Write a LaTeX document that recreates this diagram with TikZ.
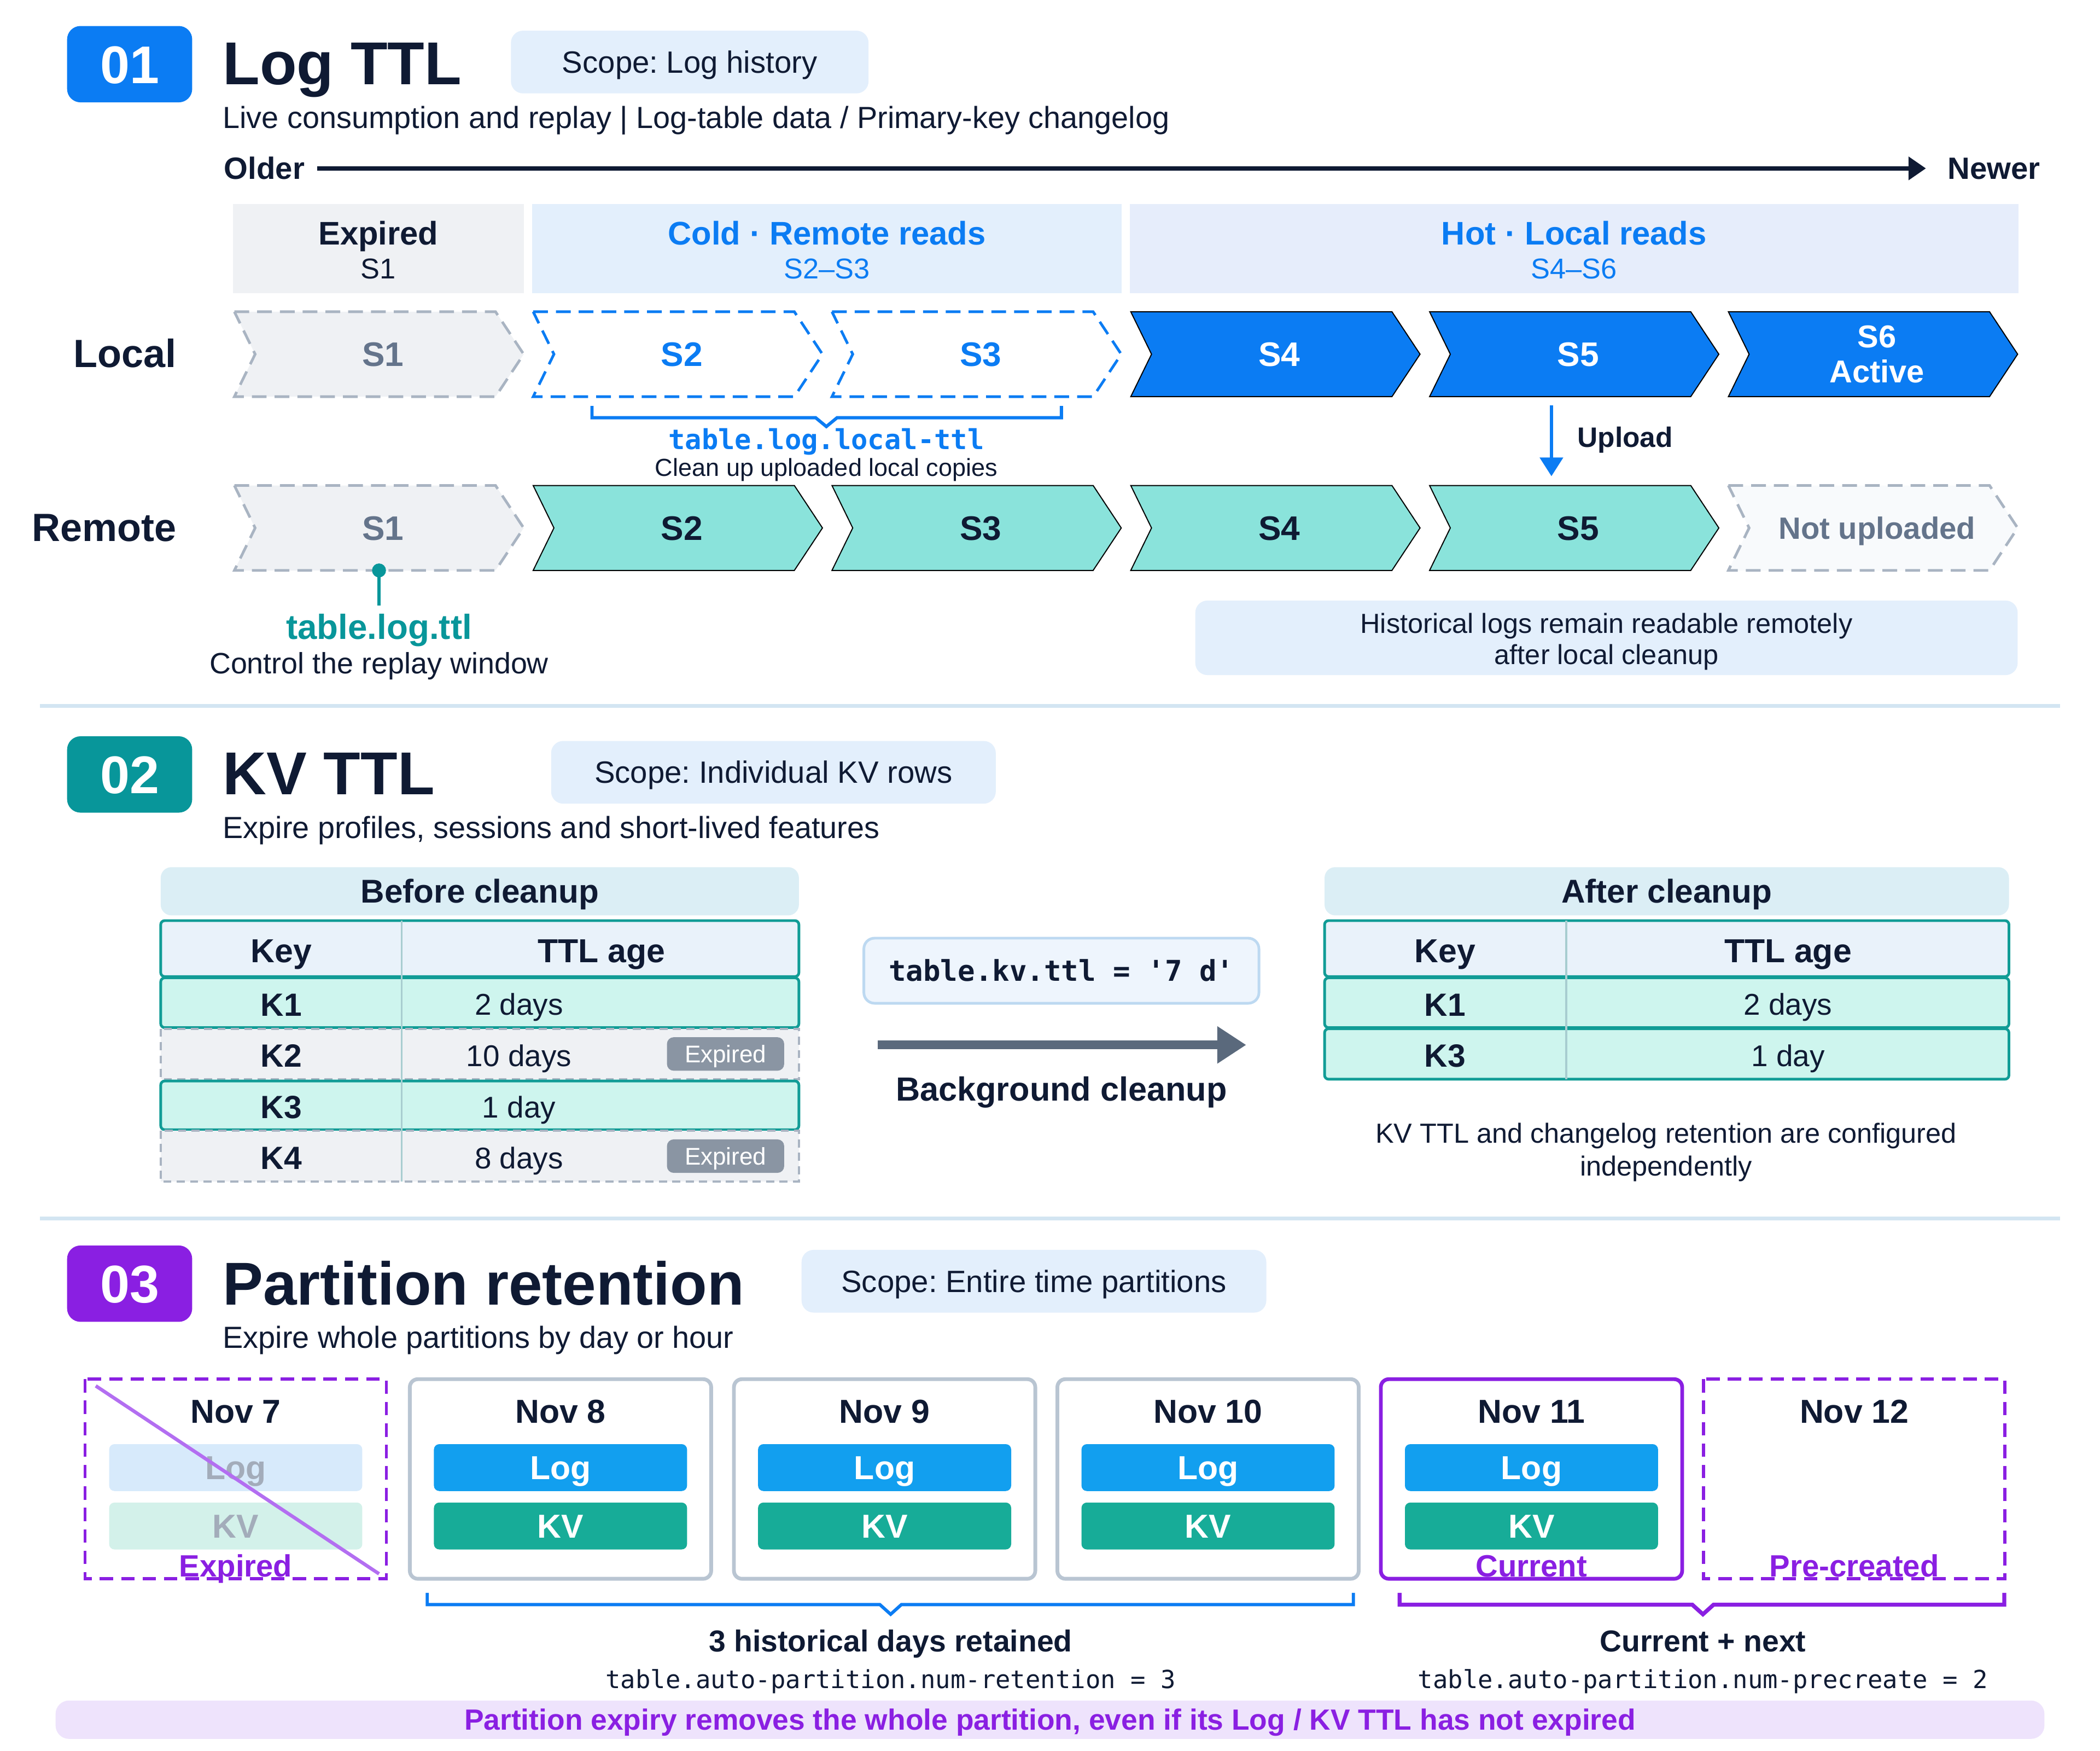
\documentclass[tikz,border=0pt]{standalone}
\usepackage{fontspec}
\setmainfont{Liberation Sans}
\setmonofont{DejaVu Sans Mono}
\usetikzlibrary{arrows.meta}
\frenchspacing

\definecolor{ink}{HTML}{0F1A33}
\definecolor{brand}{HTML}{0B7CF3}
\definecolor{paleblue}{HTML}{E3EFFC}
\definecolor{hotband}{HTML}{E6EDFB}
\definecolor{greyband}{HTML}{EFF1F4}
\definecolor{greyline}{HTML}{A9B4C2}
\definecolor{greytext}{HTML}{64748B}
\definecolor{offwhite}{HTML}{F8FAFC}
\definecolor{remote}{HTML}{8AE3DB}
\definecolor{sea}{HTML}{08969A}
\definecolor{rule}{HTML}{D3E5F2}
\definecolor{tabhead}{HTML}{DBEEF5}
\definecolor{colhead}{HTML}{E9F2FA}
\definecolor{mint}{HTML}{CEF5EE}
\definecolor{tealline}{HTML}{119C96}
\definecolor{divline}{HTML}{A8CDD0}
\definecolor{tagbg}{HTML}{8A95A3}
\definecolor{codebg}{HTML}{EEF5FD}
\definecolor{codeline}{HTML}{BDD9F1}
\definecolor{slate}{HTML}{5A697C}
\definecolor{violet}{HTML}{8A1FE2}
\definecolor{lilac}{HTML}{B36EF1}
\definecolor{bannerbg}{HTML}{EEE3FC}
\definecolor{logblue}{HTML}{129FEF}
\definecolor{kvgreen}{HTML}{17AC98}
\definecolor{logfade}{HTML}{D7EAFB}
\definecolor{kvfade}{HTML}{D3F1EA}
\definecolor{fadetext}{HTML}{A3ACBA}
\definecolor{boxline}{HTML}{B9C5D2}

\newcommand{\fsz}[2]{\fontsize{#1}{#2}\selectfont}

% chevron: kind, left x, top y, name, label
\newcommand{\chev}[5]{%
  \draw[chev #1] (#2,#3) -- ++(195,0) -- ++(21,31.7) -- ++(-21,31.7) -- ++(-195,0) -- ++(15.5,-31.7) -- cycle;
  \node[chev #1 txt] (#4) at (#2+111,#3+31.7) {#5};
}

% partition frame: style, left x, name, date
\newcommand{\partbox}[4]{%
  \draw[#1] (#2,1029.5) rectangle ++(225,149);
  \node[datetxt] (#3) at (#2+112.5,1053.5) {#4};
}

\begin{document}
\begin{tikzpicture}[x=0.5pt,y=-0.5pt,
  every node/.style={inner sep=0pt, text=ink},
  capht/.style={text height=#1, text depth=0pt},
  badge/.style={rounded corners=5pt, minimum width=46.7pt, minimum height=28.5pt, text=white, font=\fsz{19.8pt}{22pt}\bfseries, capht=14.2pt},
  ttl/.style={anchor=base west, font=\fsz{22.6pt}{27pt}\bfseries},
  sub/.style={anchor=base west, font=\fsz{11.4pt}{13pt}},
  pill/.style={fill=paleblue, rounded corners=4.5pt, minimum height=23.4pt, font=\fsz{11.5pt}{13pt}, capht=8.2pt},
  axis/.style={anchor=base west, font=\fsz{11.5pt}{13pt}\bfseries, capht=8.2pt},
  timeline/.style={draw=ink, line width=1.5pt, -{Triangle[length=6.5pt,width=8.5pt]}},
  bandhd/.style={font=\fsz{12.2pt}{14pt}\bfseries, capht=8.7pt},
  bandsub/.style={font=\fsz{10.7pt}{12pt}, capht=7.7pt},
  rowlbl/.style={anchor=base east, font=\fsz{14.7pt}{17pt}\bfseries},
  chevtxt/.style={minimum height=31.7pt, font=\fsz{12.7pt}{14pt}\bfseries, capht=9.1pt},
  chev gone/.style={fill=greyband, draw=greyline, line width=1pt, dash pattern=on 5.5pt off 3pt},
  chev gone txt/.style={chevtxt, text=greytext},
  chev cold/.style={fill=white, draw=brand, line width=1pt, dash pattern=on 5.5pt off 3pt},
  chev cold txt/.style={chevtxt, text=brand},
  chev hot/.style={fill=brand},
  chev hot txt/.style={chevtxt, text=white},
  chev active/.style={fill=brand},
  chev active txt/.style={minimum height=31.7pt, align=center, text=white, font=\fsz{11.8pt}{13pt}\bfseries},
  chev remote/.style={fill=remote},
  chev remote txt/.style={chevtxt, text=ink},
  chev none/.style={fill=offwhite, draw=greyline, line width=1pt, dash pattern=on 5.5pt off 3pt},
  chev none txt/.style={chevtxt, text=greytext, font=\fsz{11.5pt}{13pt}\bfseries, capht=8.2pt},
  bracket/.style={line width=1.2pt},
  codelbl/.style={text=brand, font=\fsz{10.3pt}{12pt}\ttfamily\bfseries, capht=7.5pt},
  small/.style={font=\fsz{9.2pt}{11pt}, capht=6.6pt},
  upload/.style={draw=brand, line width=1.4pt, -{Triangle[length=7pt,width=8.5pt]}},
  uplbl/.style={anchor=base west, font=\fsz{10.5pt}{12pt}\bfseries},
  ttllbl/.style={text=sea, font=\fsz{13pt}{15pt}\bfseries, capht=9.3pt},
  plain/.style={font=\fsz{11pt}{13pt}, capht=7.9pt},
  notebox/.style={fill=paleblue, rounded corners=4.5pt},
  boxtxt/.style={align=center, font=\fsz{10.3pt}{11.7pt}},
  sep/.style={draw=rule, line width=1.5pt},
  tabhd/.style={fill=tabhead, rounded corners=4pt, minimum height=18pt, font=\fsz{12.3pt}{14pt}\bfseries, capht=8.8pt},
  rowcol/.style={fill=colhead, draw=tealline, line width=1pt, rounded corners=1.5pt},
  rowkeep/.style={fill=mint, draw=tealline, line width=1pt, rounded corners=1.5pt},
  rowgone/.style={fill=greyband, draw=greyline, line width=0.8pt, dash pattern=on 3pt off 2pt},
  coldiv/.style={draw=divline, line width=0.7pt},
  cellhd/.style={font=\fsz{12.4pt}{14pt}\bfseries, capht=8.9pt},
  cellkey/.style={font=\fsz{12pt}{14pt}\bfseries, capht=8.6pt},
  cellval/.style={font=\fsz{11.2pt}{13pt}, capht=8pt},
  tag/.style={fill=tagbg, rounded corners=2.5pt, minimum width=43.75pt, minimum height=12.5pt, text=white, font=\fsz{9pt}{10pt}, capht=6.45pt},
  codebox/.style={fill=codebg, draw=codeline, line width=1pt, rounded corners=4pt, minimum width=147.5pt, minimum height=24.3pt, font=\fsz{10.7pt}{12pt}\ttfamily\bfseries, capht=7.8pt},
  bigarrow/.style={draw=slate, line width=3.2pt, -{Triangle[length=10.8pt,width=13.2pt]}},
  arrlbl/.style={font=\fsz{12.5pt}{14pt}\bfseries, capht=8.95pt},
  notetxt/.style={align=center, font=\fsz{10.3pt}{12.2pt}},
  pgone/.style={draw=violet, line width=1.2pt, dash pattern=on 5pt off 3pt},
  pkept/.style={draw=boxline, line width=1.4pt, rounded corners=3pt},
  pnow/.style={draw=violet, line width=1.4pt, rounded corners=3pt},
  datetxt/.style={font=\fsz{12.4pt}{14pt}\bfseries, capht=8.9pt},
  seg/.style={minimum width=94.5pt, minimum height=17.5pt, rounded corners=2pt, font=\fsz{12.4pt}{14pt}\bfseries, capht=8.9pt},
  logseg/.style={seg, fill=logblue, text=white},
  kvseg/.style={seg, fill=kvgreen, text=white},
  logfaded/.style={seg, fill=logfade, text=fadetext},
  kvfaded/.style={seg, fill=kvfade, text=fadetext},
  statetxt/.style={text=violet, font=\fsz{11.5pt}{13pt}\bfseries, capht=8.2pt},
  strike/.style={draw=lilac, line width=1.3pt},
  brlbl/.style={font=\fsz{11.3pt}{13pt}\bfseries, capht=8.1pt},
  brcode/.style={font=\fsz{9.3pt}{11pt}\ttfamily, capht=6.8pt},
  banner/.style={fill=bannerbg, rounded corners=5pt, minimum width=742.5pt, minimum height=14.3pt, text=violet, font=\fsz{10.9pt}{12pt}\bfseries, capht=7.8pt}]

\fill[white] (0,0) rectangle (1568,1307);
\useasboundingbox (0,0) rectangle (1568,1307);

% 01 Log TTL
\node[badge, fill=brand] (badgeA) at (96.8,47.9) {01};
\node[ttl] (titleA) at (166,63) {Log TTL};
\node[pill, minimum width=133.5pt] (scopeA) at (515,46.3) {Scope: Log history};
\node[sub] (subA) at (166,95.7) {Live consumption and replay | Log-table data / Primary-key changelog};

\node[axis] (older) at (167,133.9) {Older};
\node[axis] (newer) at (1454,133.9) {Newer};
\draw[timeline] ([xshift=4.5pt]older.east) -- ([xshift=-8pt]newer.west);

\fill[greyband] (174,152.4) rectangle (391,218.7);
\fill[paleblue] (397.5,152.4) rectangle (837.5,218.7);
\fill[hotband] (843.5,152.4) rectangle (1507,218.7);
\node[bandhd] (bandExp) at (282.5,174.2) {Expired};
\node[bandsub] (bandExpSub) at (282.5,200.4) {S1};
\node[bandhd, text=brand] (bandCold) at (617.5,174.2) {Cold · Remote reads};
\node[bandsub, text=brand] (bandColdSub) at (617.5,200.4) {S2–S3};
\node[bandhd, text=brand] (bandHot) at (1175.3,174.2) {Hot · Local reads};
\node[bandsub, text=brand] (bandHotSub) at (1175.3,200.4) {S4–S6};

\node[rowlbl] (local) at (132,274.3) {Local};
\chev{gone}{175}{232.7}{locS1}{S1}
\chev{cold}{398.1}{232.7}{locS2}{S2}
\chev{cold}{621.2}{232.7}{locS3}{S3}
\chev{hot}{844.3}{232.7}{locS4}{S4}
\chev{hot}{1067.4}{232.7}{locS5}{S5}
\chev{active}{1290.5}{232.7}{locS6}{S6\\Active}

\draw[bracket, brand] (442,303) -- (442,311.8) -- (609,311.8) -- (617,318.4) -- (625,311.8) -- (792.5,311.8) -- (792.5,303);
\node[codelbl] (localTtl) at (617,327.8) {table.log.local-ttl};
\node[small] (localTtlNote) at (617,348.8) {Clean up uploaded local copies};

\node[rowlbl] (remote) at (132,404) {Remote};
\chev{gone}{175}{362.4}{remS1}{S1}
\chev{remote}{398.1}{362.4}{remS2}{S2}
\chev{remote}{621.2}{362.4}{remS3}{S3}
\chev{remote}{844.3}{362.4}{remS4}{S4}
\chev{remote}{1067.4}{362.4}{remS5}{S5}
\chev{none}{1290.5}{362.4}{remNone}{Not uploaded}

\draw[upload] ([xshift=-10pt,yshift=-3.1pt]locS5.south) -- ([xshift=-10pt,yshift=3.25pt]remS5.north);
\node[uplbl] (uploadLbl) at (1177.5,334) {Upload};

\fill[sea] (283,425.8) circle (2.6pt);
\draw[sea, line width=1.1pt] (283,425.8) -- (283,452);
\node[ttllbl] (logTtl) at (283,468) {table.log.ttl};
\node[plain] (logTtlNote) at (283,494.8) {Control the replay window};

\fill[notebox] (892.5,448.3) rectangle (1506.5,503.9);
\node[boxtxt] (remoteNote) at (1199.5,479) {Historical logs remain readable remotely\\after local cleanup};

\draw[sep] (30,527) -- (1538,527);

% 02 KV TTL
\node[badge, fill=sea] (badgeB) at (96.8,578.1) {02};
\node[ttl] (titleB) at (166,593) {KV TTL};
\node[pill, minimum width=166pt] (scopeB) at (577.5,576.5) {Scope: Individual KV rows};
\node[sub] (subB) at (166,625.8) {Expire profiles, sessions and short-lived features};

\node[tabhd, minimum width=238.25pt] (befHead) at (358.25,665.3) {Before cleanup};
\draw[rowcol] (120,687.2) rectangle (596.5,729);
\draw[rowkeep] (120,729.9) rectangle (596.5,767.1);
\draw[rowgone] (120,767.9) rectangle (596.5,805.6);
\draw[rowkeep] (120,806.9) rectangle (596.5,843.3);
\draw[rowgone] (120,844) rectangle (596.5,882);
\draw[coldiv] (300,687.2) -- (300,882);
\node[cellhd] (befKey) at (210,709.6) {Key};
\node[cellhd] (befAge) at (449,709.6) {TTL age};
\node[cellkey] (befK1) at (210,749.8) {K1};
\node[cellval] (befV1) at (387.5,749.8) {2 days};
\node[cellkey] (befK2) at (210,788) {K2};
\node[cellval] (befV2) at (387.5,788) {10 days};
\node[tag] (tagK2) at (541.75,786.75) {Expired};
\node[cellkey] (befK3) at (210,826.4) {K3};
\node[cellval] (befV3) at (387.5,826.4) {1 day};
\node[cellkey] (befK4) at (210,864.3) {K4};
\node[cellval] (befV4) at (387.5,864.3) {8 days};
\node[tag] (tagK4) at (541.75,863) {Expired};

\node[codebox] (kvTtl) at (792.5,724.6) {table.kv.ttl = '7 d'};
\coordinate (cleanFrom) at (655.5,780);
\coordinate (cleanTo) at (930.5,780);
\draw[bigarrow] (cleanFrom) -- (cleanTo);
\node[arrlbl] (cleanLbl) at (792.5,813) {Background cleanup};

\node[tabhd, minimum width=255.5pt] (aftHead) at (1244.5,665.3) {After cleanup};
\draw[rowcol] (989,687.2) rectangle (1500,729);
\draw[rowkeep] (989,729.9) rectangle (1500,767.1);
\draw[rowkeep] (989,767.9) rectangle (1500,805.6);
\draw[coldiv] (1169.5,687.2) -- (1169.5,805.6);
\node[cellhd] (aftKey) at (1079,709.6) {Key};
\node[cellhd] (aftAge) at (1335,709.6) {TTL age};
\node[cellkey] (aftK1) at (1079,749.8) {K1};
\node[cellval] (aftV1) at (1335,749.8) {2 days};
\node[cellkey] (aftK3) at (1079,788) {K3};
\node[cellval] (aftV3) at (1335,788) {1 day};

\node[notetxt] (kvNote) at (1244,860) {KV TTL and changelog retention are configured\\independently};

\draw[sep] (30,909.5) -- (1538,909.5);

% 03 Partition retention
\node[badge, fill=violet] (badgeC) at (96.8,958.2) {03};
\node[ttl] (titleC) at (166,974) {Partition retention};
\node[pill, minimum width=173.5pt] (scopeC) at (772,956.4) {Scope: Entire time partitions};
\node[sub] (subC) at (166,1006.4) {Expire whole partitions by day or hour};

\partbox{pgone}{63.5}{nov7}{Nov 7}
\partbox{pkept}{306}{nov8}{Nov 8}
\partbox{pkept}{548}{nov9}{Nov 9}
\partbox{pkept}{789.5}{nov10}{Nov 10}
\partbox{pnow}{1031}{nov11}{Nov 11}
\partbox{pgone}{1272}{nov12}{Nov 12}

\node[logfaded] (log7) at (176,1095.5) {Log};
\node[kvfaded] (kv7) at (176,1139.1) {KV};
\node[statetxt] (state7) at (176,1168.8) {Expired};
\draw[strike] (71.5,1034.5) -- (283,1174.8);
\node[logseg] (log8) at (418.5,1095.5) {Log};
\node[kvseg] (kv8) at (418.5,1139.1) {KV};
\node[logseg] (log9) at (660.5,1095.5) {Log};
\node[kvseg] (kv9) at (660.5,1139.1) {KV};
\node[logseg] (log10) at (902,1095.5) {Log};
\node[kvseg] (kv10) at (902,1139.1) {KV};
\node[logseg] (log11) at (1143.5,1095.5) {Log};
\node[kvseg] (kv11) at (1143.5,1139.1) {KV};
\node[statetxt] (state11) at (1143.5,1168.8) {Current};
\node[statetxt] (state12) at (1384.5,1168.8) {Pre-created};

\draw[bracket, brand] (319,1189) -- (319,1197.8) -- (657,1197.8) -- (665,1205) -- (673,1197.8) -- (1010.5,1197.8) -- (1010.5,1189);
\node[brlbl] (keepLbl) at (665,1224.8) {3 historical days retained};
\node[brcode] (keepCode) at (665,1253.5) {table.auto-partition.num-retention = 3};
\draw[bracket, violet, line width=1.5pt] (1045,1189) -- (1045,1197.8) -- (1263.5,1197.8) -- (1271.5,1205) -- (1279.5,1197.8) -- (1496.5,1197.8) -- (1496.5,1189);
\node[brlbl] (nextLbl) at (1271.5,1224.8) {Current + next};
\node[brcode] (nextCode) at (1271.5,1253.5) {table.auto-partition.num-precreate = 2};

\node[banner] (expiryNote) at (784,1283.7) {Partition expiry removes the whole partition, even if its Log / KV TTL has not expired};
\end{tikzpicture}
\end{document}
